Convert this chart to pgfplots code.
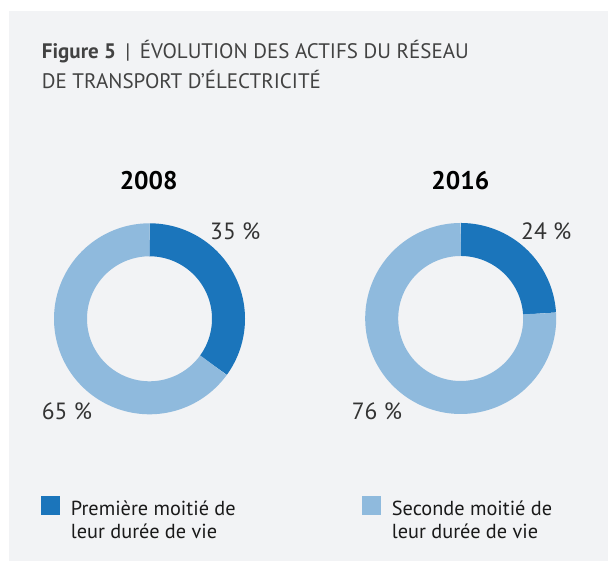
\documentclass[border=0pt]{standalone}
\usepackage{pgfplots}
\usepackage{pgfplotstable}
\pgfplotsset{compat=1.18}
\usepackage{fontspec}
\setmainfont{PT Sans}
\definecolor{bg}{HTML}{F2F3F5}
\definecolor{dark}{HTML}{1B75BB}
\definecolor{light}{HTML}{8FBADD}
\definecolor{titlec}{HTML}{424242}
\definecolor{pctc}{HTML}{333333}
\definecolor{legc}{HTML}{1A1A1A}

% share of assets (%) : first half / second half of lifetime
\pgfplotstableread{
year first second cx cy
2008 35 65 149.5 242.2
2016 24 76 460.7 242.5
}\donutdata

\pgfplotstablegetelem{0}{first}\of\donutdata \let\fA\pgfplotsretval
\pgfplotstablegetelem{1}{first}\of\donutdata \let\fB\pgfplotsretval

\begin{document}
\begin{tikzpicture}[x=1pt,y=1pt]
\fill[white] (0,0) rectangle (608,561);
\fill[bg] (9,0) rectangle (608,550);
\begin{axis}[
  at={(0,0)}, anchor=south west,
  x=1pt, y=1pt,
  xmin=0, xmax=608, ymin=0, ymax=561,
  hide axis, clip=false,
]
% 2008
\addplot[dark, line width=33pt, domain={90-3.6*\fA}:90, samples=120, no marks]
  ({149.5+79*cos(x)}, {242.2+79*sin(x)});
\addplot[light, line width=33pt, domain=90:{450-3.6*\fA}, samples=160, no marks]
  ({149.5+79*cos(x)}, {242.2+79*sin(x)});
% 2016
\addplot[dark, line width=33pt, domain={90-3.6*\fB}:90, samples=120, no marks]
  ({460.7+79*cos(x)}, {242.5+79*sin(x)});
\addplot[light, line width=33pt, domain=90:{450-3.6*\fB}, samples=160, no marks]
  ({460.7+79*cos(x)}, {242.5+79*sin(x)});
\end{axis}

% title
\node[anchor=base west, inner sep=0, text=titlec, font=\fontsize{21}{25}\selectfont] at (41.7,502.7)
  {\textbf{Figure 5}\hspace{0.45em}|\hspace{0.45em}ÉVOLUTION DES ACTIFS DU RÉSEAU};
\node[anchor=base west, inner sep=0, text=titlec, font=\fontsize{21}{25}\selectfont] at (41.7,472.7)
  {DE TRANSPORT D’ÉLECTRICITÉ};

% years
\node[anchor=base, inner sep=0, text=black, font=\fontsize{25.5}{28}\selectfont\bfseries] at (148.7,371) {2008};
\node[anchor=base, inner sep=0, text=black, font=\fontsize{25.5}{28}\selectfont\bfseries] at (460.3,371) {2016};

% percentages
\node[anchor=base west, inner sep=0, text=pctc, font=\fontsize{23.5}{26}\selectfont] at (210,321) {35 \%};
\node[anchor=base west, inner sep=0, text=pctc, font=\fontsize{23.5}{26}\selectfont] at (41.7,141) {65 \%};
\node[anchor=base west, inner sep=0, text=pctc, font=\fontsize{23.5}{26}\selectfont] at (521,321) {24 \%};
\node[anchor=base west, inner sep=0, text=pctc, font=\fontsize{23.5}{26}\selectfont] at (351.7,141) {76 \%};

% legend
\fill[dark] (41,46) rectangle (60,65);
\fill[light] (362,46) rectangle (381,65);
\node[anchor=base west, inner sep=0, text=legc, font=\fontsize{20.3}{24}\selectfont] at (70.7,45.3) {Première moitié de};
\node[anchor=base west, inner sep=0, text=legc, font=\fontsize{20.3}{24}\selectfont] at (70.7,22.7) {leur durée de vie};
\node[anchor=base west, inner sep=0, text=legc, font=\fontsize{20.3}{24}\selectfont] at (391.7,45.3) {Seconde moitié de};
\node[anchor=base west, inner sep=0, text=legc, font=\fontsize{20.3}{24}\selectfont] at (391.7,22.7) {leur durée de vie};
\end{tikzpicture}
\end{document}
